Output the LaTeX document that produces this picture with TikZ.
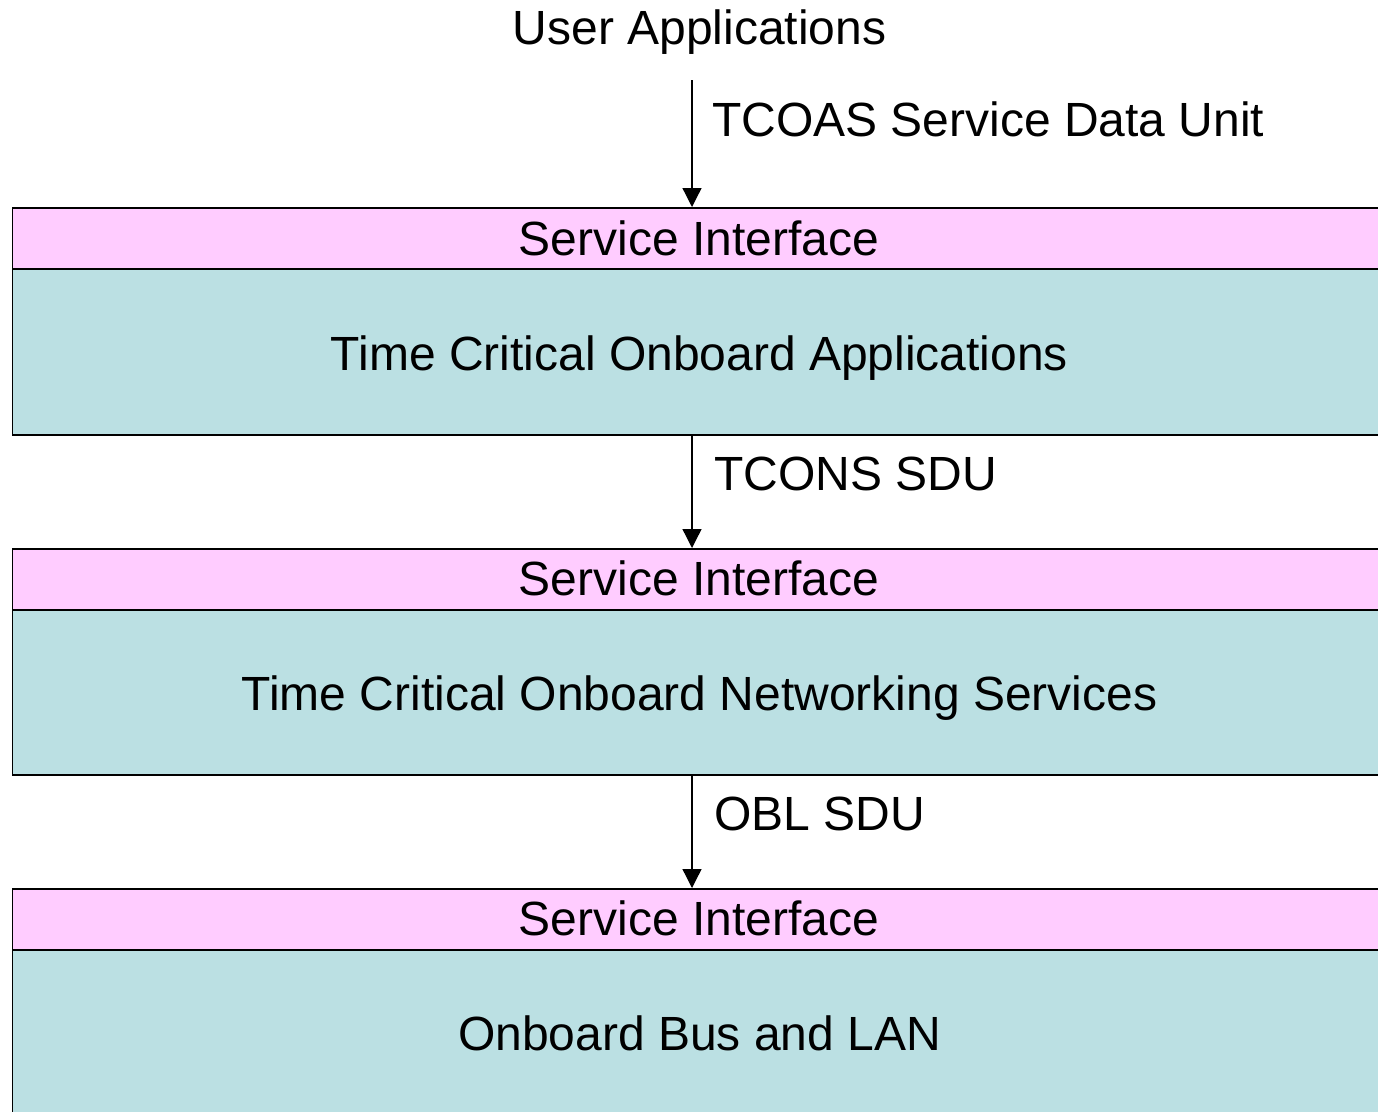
\documentclass[tikz,border=0pt]{standalone}
\usepackage{fontspec}
\setmainfont{Liberation Sans}
\usetikzlibrary{arrows.meta}
\definecolor{ifacepink}{HTML}{FFCCFF}
\definecolor{layerteal}{HTML}{BBE0E3}
\tikzset{
  x=1pt, y=-1pt,
  lbl/.style={font=\fontsize{48}{57}\selectfont, inner sep=0pt, anchor=base},
  sidelbl/.style={lbl, anchor=base west},
  iface/.style={draw=black, line width=1.6pt, fill=ifacepink, anchor=north west,
    minimum width=1400pt, minimum height=61pt, inner sep=0pt},
  layer/.style={draw=black, line width=1.6pt, fill=layerteal, anchor=north west,
    minimum width=1400pt, minimum height=166pt, inner sep=0pt},
  flow/.style={line width=1.3pt, -{Triangle[width=19pt,length=19pt]}}
}
\begin{document}
\begin{tikzpicture}
\useasboundingbox (0,0) rectangle (1378,1111);
\clip (0,0) rectangle (1378,1111);

% protocol layers, each topped by its service interface
\node[layer] (appl) at (11.5,268) {};
\node[iface] (si1) at (11.5,207) {};
\node[layer] (netw) at (11.5,608) {};
\node[iface] (si2) at (11.5,548) {};
\node[layer, minimum height=200pt] (bus) at (11.5,948) {};
\node[iface] (si3) at (11.5,888) {};

\node[lbl] (si1t) at (699,255) {Service Interface};
\node[lbl] (si2t) at (699,595) {Service Interface};
\node[lbl] (si3t) at (699,935) {Service Interface};
\node[lbl] (applt) at (699.5,370) {Time Critical Onboard Applications};
\node[lbl] (netwt) at (699.5,710) {Time Critical Onboard Networking Services};
\node[lbl] (bust) at (699.5,1050) {Onboard Bus and LAN};

% user level and data units passed downwards
\node[lbl] (user) at (699.5,44) {User Applications};
\coordinate (src) at (692,80);
\draw[flow] (src) -- (src |- si1.north);
\draw[flow] (src |- appl.south) -- (src |- si2.north);
\draw[flow] (src |- netw.south) -- (src |- si3.north);

\node[sidelbl] (sdu1) at (712,136) {TCOAS Service Data Unit};
\node[sidelbl] (sdu2) at (714,490) {TCONS SDU};
\node[sidelbl] (sdu3) at (714,830) {OBL SDU};
\end{tikzpicture}
\end{document}
